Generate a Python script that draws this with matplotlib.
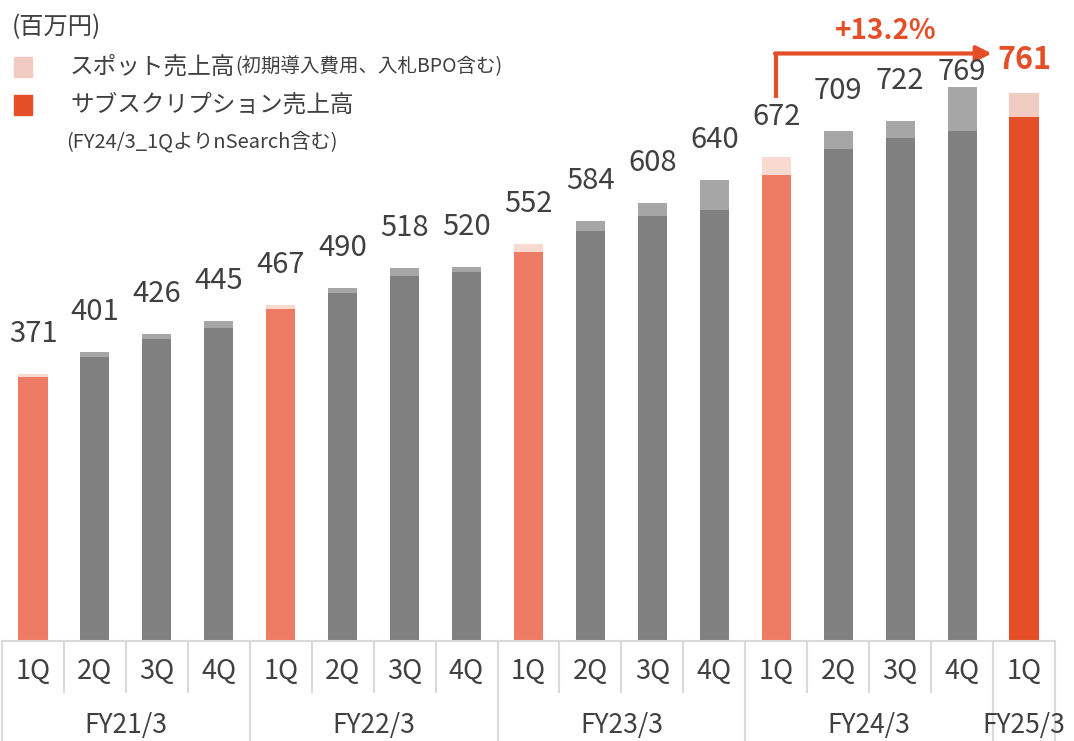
import matplotlib.pyplot as plt
from matplotlib.transforms import blended_transform_factory

plt.rcParams['font.family'] = ['Noto Sans CJK JP', 'DejaVu Sans']

# 四半期ごとの売上高（百万円）
years = ['FY21/3', 'FY22/3', 'FY23/3', 'FY24/3', 'FY25/3']
quarters = ['1Q', '2Q', '3Q', '4Q'] * 4 + ['1Q']
totals = [371, 401, 426, 445, 467, 490, 518, 520, 552, 584, 608, 640, 672, 709, 722, 769, 761]
spot = [4, 6, 6, 10, 6, 7, 11, 7, 12, 14, 18, 42, 25, 25, 24, 61, 33]
subscription = [t - s for t, s in zip(totals, spot)]
growth_label = '+13.2%'

W, H = 1074, 741
fig = plt.figure(figsize=(W / 100, H / 100), dpi=100)
ax = fig.add_axes([2 / W, 100 / H, 1053 / W, 635 / H])
ax.set_xlim(-0.5, len(totals) - 0.5)
ax.set_ylim(0, 635 / 0.72)
ax.axis('off')

text_c = '#404040'
line_c = '#D9D9D9'
sub_colors = []
spot_colors = []
for i in range(len(totals)):
    if i == len(totals) - 1:
        sub_colors.append('#E44F28')
        spot_colors.append('#EFCBC2')
    elif quarters[i] == '1Q':
        sub_colors.append('#EE7B64')
        spot_colors.append('#F9DAD0')
    else:
        sub_colors.append('#808080')
        spot_colors.append('#A6A6A6')

x = list(range(len(totals)))
ax.bar(x, subscription, width=0.47, color=sub_colors, zorder=2)
ax.bar(x, spot, width=0.47, bottom=subscription, color=spot_colors, zorder=2)

# 数値ラベル
for i, t in enumerate(totals):
    if i == len(totals) - 1:
        ax.annotate(str(t), (i, t), xytext=(0, 12), textcoords='offset points',
                    ha='center', va='bottom', fontsize=22, fontweight='bold',
                    color='#E44F28', zorder=5)
    else:
        off = 0 if i == 15 else 18
        ax.annotate(str(t), (i, t), xytext=(0, off), textcoords='offset points',
                    ha='center', va='bottom', fontsize=21, color=text_c,
                    zorder=5)

# 下の表
tr = blended_transform_factory(ax.transData, fig.transFigure)
y_axis = 100 / H
y_mid = 49 / H
ax.plot([-0.5, len(totals) - 0.5], [y_axis, y_axis], transform=tr, color=line_c,
        lw=1.5, clip_on=False)
for k in range(len(totals) + 1):
    xb = k - 0.5
    y_end = 0 if (k % 4 == 0 or k == len(totals)) else y_mid
    ax.plot([xb, xb], [y_axis, y_end], transform=tr, color=line_c, lw=1.5,
            clip_on=False)
for i, q in enumerate(quarters):
    ax.text(i, 69 / H, q, transform=tr, ha='center', va='center', fontsize=19.5,
            color=text_c)
for j, yl in enumerate(years):
    xc = j * 4 + 1.5 if j < 4 else 16
    ax.text(xc, 16 / H, yl, transform=tr, ha='center', va='center', fontsize=19,
            color=text_c)

# 成長率の矢印
red = '#E44F28'
y_a0 = 754
y_a1 = 816
ax.plot([12, 12], [y_a0, y_a1], color=red, lw=3, solid_capstyle='butt',
        clip_on=False, zorder=3)
ax.annotate('', xy=(15.48, y_a1), xytext=(11.98, y_a1),
            arrowprops=dict(arrowstyle='-|>,head_length=0.9,head_width=0.45',
                            color=red, lw=3, shrinkA=0, shrinkB=0),
            annotation_clip=False)
ax.text(13.76, 847, growth_label, ha='center', va='center', fontsize=20,
        fontweight='bold', color=red)

# 凡例
fig.text(12 / W, 1 - 27 / H, '(百万円)', ha='left', va='center', fontsize=17.5,
         color=text_c)
fig.patches.append(plt.Rectangle((14 / W, 1 - 77 / H), 18 / W, 20 / H,
                                 transform=fig.transFigure, color='#F0CBC2'))
fig.patches.append(plt.Rectangle((14 / W, 1 - 115 / H), 18 / W, 20 / H,
                                 transform=fig.transFigure, color='#E44F28'))
t1 = fig.text(70 / W, 1 - 67 / H, 'スポット売上高', ha='left', va='center',
              fontsize=17, color=text_c)
fig.canvas.draw()
bb = t1.get_window_extent()
fig.text(bb.x1 / W, 1 - 67 / H, '(初期導入費用、入札BPO含む)', ha='left',
         va='center', fontsize=14, color=text_c)
fig.text(70 / W, 1 - 105 / H, 'サブスクリプション売上高', ha='left', va='center',
         fontsize=17, color=text_c)
fig.text(66 / W, 1 - 142 / H, '(FY24/3_1QよりnSearch含む)', ha='left',
         va='center', fontsize=14.5, color=text_c)

fig.savefig('out.png', dpi=100)
